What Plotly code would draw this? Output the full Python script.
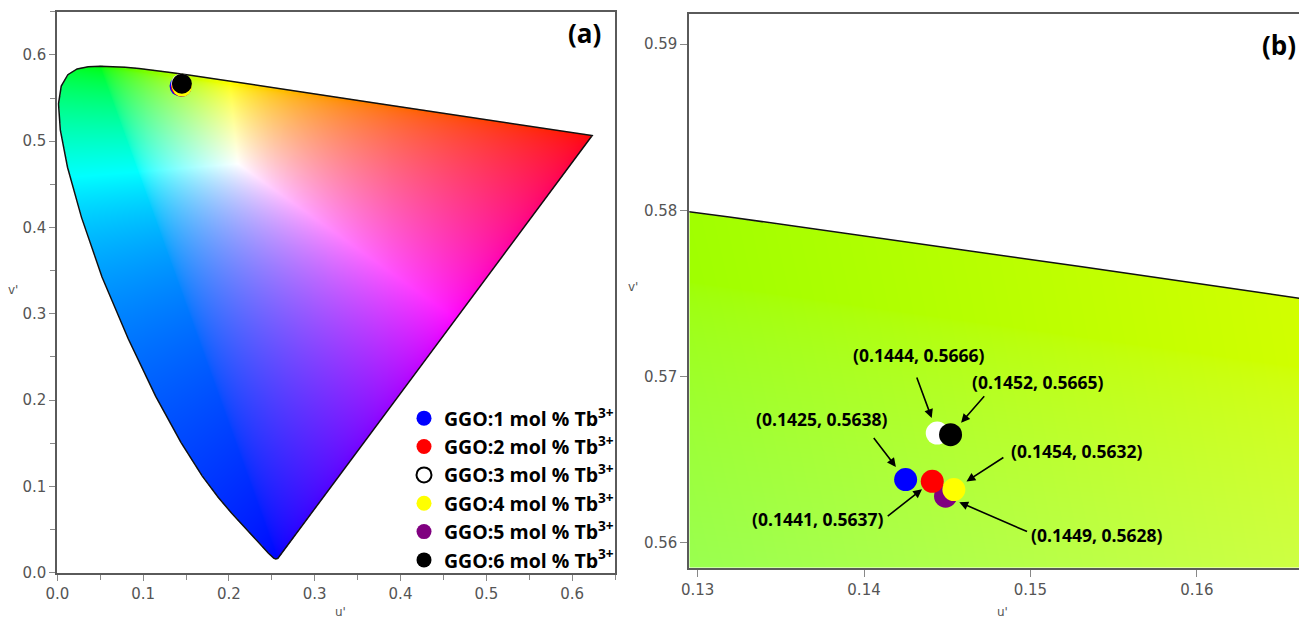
import base64
import struct
import zlib

import numpy as np
import plotly.graph_objects as go

# ---------------------------------------------------------------------------
# Data
# ---------------------------------------------------------------------------
# CIE 1976 spectral locus (u', v'), 380 nm -> 700 nm
LOCUS_U = [0.2569, 0.2558, 0.2545, 0.2522, 0.2461, 0.2347, 0.2266, 0.2161, 0.2033,
           0.1877, 0.1690, 0.1441, 0.1147, 0.0828, 0.0521, 0.0282, 0.0119, 0.0035,
           0.0014, 0.0046, 0.0123, 0.0231, 0.0360, 0.0501, 0.0643, 0.0792, 0.0953,
           0.1127, 0.1319, 0.1531, 0.1766, 0.2026, 0.2312, 0.2623, 0.2959, 0.3315,
           0.3681, 0.4035, 0.4380, 0.4691, 0.4967, 0.5202, 0.5565, 0.5830, 0.6005,
           0.6134, 0.6234]
LOCUS_V = [0.0165, 0.0159, 0.0159, 0.0169, 0.0226, 0.0349, 0.0437, 0.0549, 0.0689,
           0.0871, 0.1119, 0.1510, 0.2044, 0.2708, 0.3427, 0.4117, 0.4698, 0.5131,
           0.5432, 0.5638, 0.5770, 0.5837, 0.5861, 0.5868, 0.5865, 0.5856, 0.5841,
           0.5821, 0.5796, 0.5766, 0.5732, 0.5694, 0.5651, 0.5604, 0.5554, 0.5501,
           0.5446, 0.5393, 0.5342, 0.5296, 0.5254, 0.5219, 0.5165, 0.5125, 0.5099,
           0.5080, 0.5065]

# GGO:Tb3+ samples
TB_MOL = [1, 2, 3, 4, 5, 6]
SAMPLE_U = [0.1425, 0.1441, 0.1444, 0.1454, 0.1449, 0.1452]
SAMPLE_V = [0.5638, 0.5637, 0.5666, 0.5632, 0.5628, 0.5665]
SAMPLE_COLORS = ["#0000ff", "#ff0000", "#ffffff", "#ffff00", "#800080", "#000000"]
LEGEND_LINE = ["#0000ff", "#ff0000", "#000000", "#ffff00", "#800080", "#000000"]
DRAW_ORDER = [4, 0, 1, 2, 3, 5]  # stacking of the overlapping dots

# Axis settings
A_RANGE = [0.0, 0.65]
B_XRANGE = [0.1295, 0.16614]
B_YRANGE = [0.5585, 0.59181]

W, H = 1299, 620

# ---------------------------------------------------------------------------
# Chromaticity fill rendering
# ---------------------------------------------------------------------------
RENDER_PRIMARIES = [(0.6234, 0.5065), (0.0501, 0.5868), (0.2569, 0.0165)]
RENDER_WHITE = (0.2105, 0.4737)
RENDER_GAMMA = 1.7


def uv_to_xyz(u, v):
    u = np.asarray(u, float)
    v = np.asarray(v, float)
    d = 6 * u - 16 * v + 12
    x = 9 * u / d
    y = 4 * v / d
    y = np.where(np.abs(y) < 1e-9, 1e-9, y)
    return np.stack([x / y, np.ones_like(x), (1 - x - y) / y])


prim = np.stack([uv_to_xyz(*p) for p in RENDER_PRIMARIES], axis=1)
scale = np.linalg.solve(prim, uv_to_xyz(*RENDER_WHITE))
to_rgb = np.linalg.inv(prim * scale[None, :])


def inside_polygon(px, py, polyx, polyy):
    res = np.zeros(px.shape, dtype=bool)
    n = len(polyx)
    j = n - 1
    for i in range(n):
        xi, yi, xj, yj = polyx[i], polyy[i], polyx[j], polyy[j]
        if yi != yj:
            cross = ((yi > py) != (yj > py)) & (px < (xj - xi) * (py - yi) / (yj - yi) + xi)
            res ^= cross
        j = i
    return res


def render_gamut(u0, u1, v0, v1, nx, ny):
    uu = u0 + (np.arange(nx) + 0.5) * (u1 - u0) / nx
    vv = v1 - (np.arange(ny) + 0.5) * (v1 - v0) / ny
    U, V = np.meshgrid(uu, vv)
    xyz = uv_to_xyz(U, V).reshape(3, -1)
    rgb = to_rgb @ xyz
    rgb = np.nan_to_num(np.clip(rgb, 0, None))
    m = rgb.max(axis=0, keepdims=True)
    m[m == 0] = 1
    rgb = (rgb / m) ** (1 / RENDER_GAMMA)
    rgb = (rgb * 255 + 0.5).astype(np.uint8).T.reshape(ny, nx, 3)
    mask = inside_polygon(U, V, LOCUS_U, LOCUS_V)
    alpha = np.where(mask, 255, 0).astype(np.uint8)[..., None]
    return np.concatenate([rgb, alpha], axis=2)


def png_uri(rgba):
    h, w, _ = rgba.shape
    raw = b"".join(b"\x00" + rgba[r].tobytes() for r in range(h))

    def chunk(tag, data):
        body = tag + data
        return struct.pack(">I", len(data)) + body + struct.pack(">I", zlib.crc32(body) & 0xFFFFFFFF)

    png = (b"\x89PNG\r\n\x1a\n"
           + chunk(b"IHDR", struct.pack(">IIBBBBB", w, h, 8, 6, 0, 0, 0))
           + chunk(b"IDAT", zlib.compress(raw, 9))
           + chunk(b"IEND", b""))
    return "data:image/png;base64," + base64.b64encode(png).decode()


img_a = png_uri(render_gamut(A_RANGE[0], A_RANGE[1], A_RANGE[0], A_RANGE[1], 560, 560))
img_b = png_uri(render_gamut(B_XRANGE[0], B_XRANGE[1], B_YRANGE[0], B_YRANGE[1], 612, 556))

# ---------------------------------------------------------------------------
# Figure
# ---------------------------------------------------------------------------
fig = go.Figure()

loop_u = LOCUS_U + [LOCUS_U[0]]
loop_v = LOCUS_V + [LOCUS_V[0]]
for xa, ya in (("x", "y"), ("x2", "y2")):
    fig.add_trace(go.Scatter(x=loop_u, y=loop_v, xaxis=xa, yaxis=ya, mode="lines",
                             line=dict(color="#111111", width=1.5),
                             hoverinfo="skip", showlegend=False))

ordered_u = [SAMPLE_U[i] for i in DRAW_ORDER]
ordered_v = [SAMPLE_V[i] for i in DRAW_ORDER]
ordered_c = [SAMPLE_COLORS[i] for i in DRAW_ORDER]
for xa, ya, size in (("x", "y", 20), ("x2", "y2", 23)):
    fig.add_trace(go.Scatter(x=ordered_u, y=ordered_v, xaxis=xa, yaxis=ya, mode="markers",
                             marker=dict(size=size, color=ordered_c, line=dict(width=0)),
                             showlegend=False))

# legend entries
for i, mol in enumerate(TB_MOL):
    fig.add_trace(go.Scatter(
        x=[None], y=[None], xaxis="x", yaxis="y", mode="markers",
        name=f"GGO:{mol} mol % Tb<sup>3+</sup>", legendgroup=f"g{mol}",
        marker=dict(size=15, color=SAMPLE_COLORS[i],
                    line=dict(width=2 if SAMPLE_COLORS[i] == "#ffffff" else 0,
                              color=LEGEND_LINE[i]))))

tick_font = dict(family="DejaVu Sans", size=15, color="#555555")
axis_common = dict(showline=True, linecolor="#5a5a5a", linewidth=2, showgrid=False,
                   zeroline=False, ticks="outside", tickcolor="#888888", tickwidth=1,
                   tickfont=tick_font, automargin=False)

fig.update_layout(
    width=W, height=H, margin=dict(l=0, r=0, t=0, b=0, autoexpand=False),
    paper_bgcolor="white", plot_bgcolor="white",
    xaxis=dict(domain=[57.3 / W, 615 / W], range=A_RANGE, dtick=0.1, tick0=0,
               tickformat=".1f", ticklen=6, mirror=True,
               minor=dict(dtick=0.05, ticks="outside", ticklen=5, tickcolor="#888888"),
               **axis_common),
    yaxis=dict(domain=[1 - 572.7 / H, 1 - 11.7 / H], range=A_RANGE, dtick=0.1, tick0=0,
               tickformat=".1f", ticklen=6, mirror=True,
               minor=dict(dtick=0.05, ticks="outside", ticklen=5, tickcolor="#888888"),
               **axis_common),
    xaxis2=dict(domain=[689.3 / W, 1.0], range=B_XRANGE, dtick=0.01, tick0=0.13,
                tickformat=".2f", ticklen=7, mirror=True, anchor="y2", **axis_common),
    yaxis2=dict(domain=[1 - 567.7 / H, 1 - 14 / H], range=B_YRANGE, dtick=0.01, tick0=0.56,
                tickformat=".2f", ticklen=7, mirror=False, anchor="x2", **axis_common),
    showlegend=True,
    legend=dict(x=404 / W, xanchor="left", y=1 - 399 / H, yanchor="top",
                bgcolor="rgba(0,0,0,0)", borderwidth=0, tracegroupgap=0,
                font=dict(family="Open Sans", size=19.5, color="black", weight="bold"),
                itemsizing="trace"),
    images=[
        dict(source=img_a, xref="x", yref="y", x=A_RANGE[0], y=A_RANGE[1],
             sizex=A_RANGE[1] - A_RANGE[0], sizey=A_RANGE[1] - A_RANGE[0],
             xanchor="left", yanchor="top", sizing="stretch", layer="below"),
        dict(source=img_b, xref="x2", yref="y2", x=B_XRANGE[0], y=B_YRANGE[1],
             sizex=B_XRANGE[1] - B_XRANGE[0], sizey=B_YRANGE[1] - B_YRANGE[0],
             xanchor="left", yanchor="top", sizing="stretch", layer="below"),
    ],
)

ann = []
title_font = dict(family="DejaVu Sans", size=12, color="#555555")
for text, px, py in (("v'", 13, 290), ("u'", 340, 612), ("v'", 633, 287), ("u'", 1002, 612)):
    ann.append(dict(text=text, x=px / W, y=1 - py / H, xref="paper", yref="paper",
                    showarrow=False, font=title_font, xanchor="center", yanchor="middle"))
for text, px, py in (("(a)", 584, 33), ("(b)", 1279, 45)):
    ann.append(dict(text=f"<b>{text}</b>", x=px / W, y=1 - py / H, xref="paper", yref="paper",
                    showarrow=False, font=dict(family="Open Sans", size=26, color="black"),
                    xanchor="center", yanchor="middle"))

# coordinate call-outs in panel (b): label offset and arrow tail offset (pixels)
LABEL_SHIFT = [(-84, 61), (-114, -38), (-18, 78), (123, 39), (151, -39), (87, 53)]
ARROW_TAIL = [(-33, -43, 16), (-46, 36, 13), (-21, -57, 16), (51, -33, 15), (83, 36, 15), (35, -40, 16)]
for i in range(len(TB_MOL)):
    u, v = SAMPLE_U[i], SAMPLE_V[i]
    dx, dy = LABEL_SHIFT[i]
    ann.append(dict(text=f"<b>({u:.4f}, {v:.4f})</b>", x=u, y=v, xref="x2", yref="y2",
                    showarrow=False, xshift=dx, yshift=dy,
                    font=dict(family="Open Sans", size=17.5, color="black")))
    ax, ay, so = ARROW_TAIL[i]
    ann.append(dict(text="", x=u, y=v, xref="x2", yref="y2", showarrow=True,
                    ax=ax, ay=ay, standoff=so, arrowhead=2, arrowsize=1.1,
                    arrowwidth=1.6, arrowcolor="black"))
fig.update_layout(annotations=ann)

fig.write_html("out.html")
